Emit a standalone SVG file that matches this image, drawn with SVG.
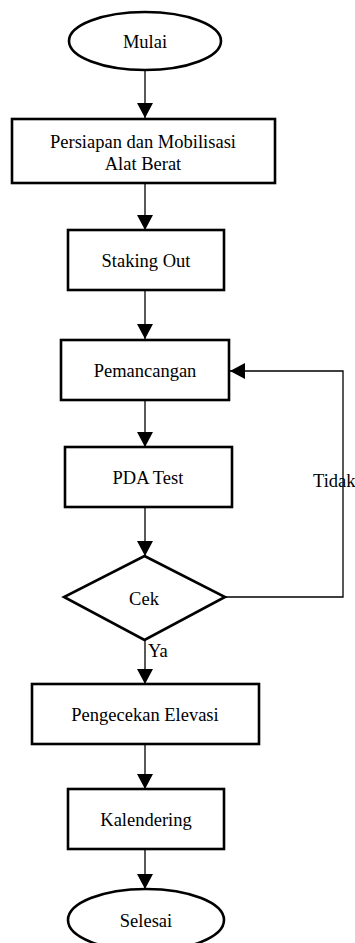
<svg xmlns="http://www.w3.org/2000/svg" width="355" height="943" viewBox="0 0 355 943">
<style>
.n{fill:#fff;stroke:#000;stroke-width:2.6}
.t{font-family:"Liberation Serif","Times New Roman",serif;font-size:18.5px;fill:#000;text-anchor:middle}
.l{font-family:"Liberation Serif","Times New Roman",serif;font-size:18.5px;fill:#000}
.c{fill:none;stroke:#000;stroke-width:1.3}
</style>
<defs>
<marker id="ah" markerUnits="userSpaceOnUse" markerWidth="16" markerHeight="16" viewBox="0 0 16 16" refX="15" refY="8" orient="auto">
<path d="M0,0 L15,8 L0,16 Z" fill="#000"/>
</marker>
</defs>
<g id="connectors">
<line class="c" x1="145" y1="70" x2="145" y2="118" marker-end="url(#ah)"/>
<line class="c" x1="145" y1="183" x2="145" y2="230" marker-end="url(#ah)"/>
<line class="c" x1="145" y1="290" x2="145" y2="339" marker-end="url(#ah)"/>
<line class="c" x1="145" y1="400" x2="145" y2="447" marker-end="url(#ah)"/>
<line class="c" x1="145" y1="507" x2="145" y2="556" marker-end="url(#ah)"/>
<line class="c" x1="145" y1="640" x2="145" y2="684" marker-end="url(#ah)"/>
<line class="c" x1="145" y1="744" x2="145" y2="789" marker-end="url(#ah)"/>
<line class="c" x1="145" y1="849" x2="145" y2="889" marker-end="url(#ah)"/>
<polyline class="c" points="225,597 343,597 343,371 230,371" marker-end="url(#ah)"/>
<text class="l" x="313" y="487">Tidak</text>
<text class="l" x="148" y="657">Ya</text>
</g>
<g id="mulai"><ellipse class="n" cx="145" cy="41" rx="76" ry="29"/><text class="t" x="145" y="48">Mulai</text></g>
<g id="persiapan"><rect class="n" x="12" y="119" width="263" height="64"/><text class="t" x="143" y="148">Persiapan dan Mobilisasi</text><text class="t" x="143" y="170">Alat Berat</text></g>
<g id="staking"><rect class="n" x="68" y="230" width="156" height="60"/><text class="t" x="146" y="267">Staking Out</text></g>
<g id="pemancangan"><rect class="n" x="61" y="340" width="168" height="60"/><text class="t" x="145" y="377">Pemancangan</text></g>
<g id="pda"><rect class="n" x="65" y="447" width="167" height="60"/><text class="t" x="148" y="484">PDA Test</text></g>
<g id="cek"><polygon class="n" points="144.5,556 225,597 144.5,640 64,597"/><text class="t" x="144" y="605">Cek</text></g>
<g id="pengecekan"><rect class="n" x="32" y="684" width="227" height="60"/><text class="t" x="145" y="721">Pengecekan Elevasi</text></g>
<g id="kalendering"><rect class="n" x="68" y="789" width="156" height="60"/><text class="t" x="146" y="826">Kalendering</text></g>
<g id="selesai"><ellipse class="n" cx="146" cy="920" rx="78" ry="31"/><text class="t" x="146" y="927">Selesai</text></g>
</svg>
